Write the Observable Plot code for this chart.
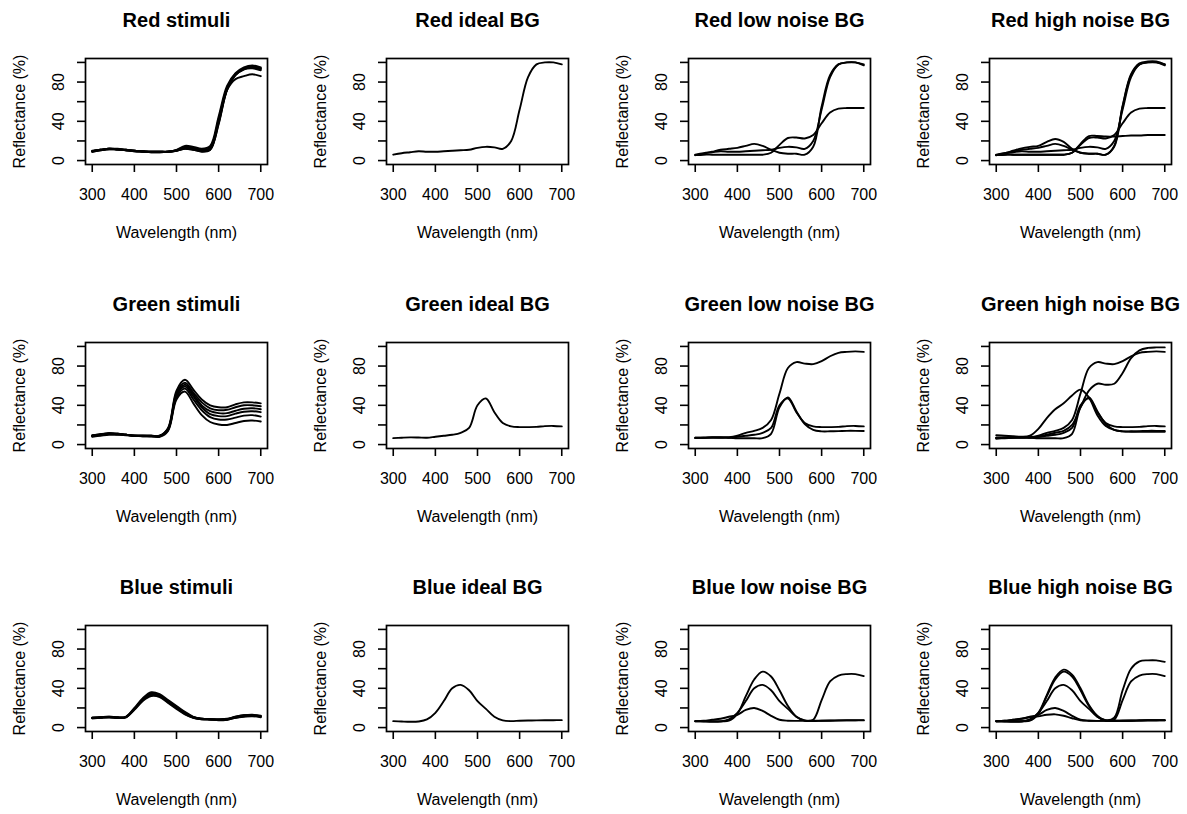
<!DOCTYPE html>
<html><head><meta charset="utf-8">
<script src="https://cdn.jsdelivr.net/npm/d3@7"></script>
<script src="https://cdn.jsdelivr.net/npm/@observablehq/plot@0.6"></script>
<style>
body{margin:0;background:#fff;}
#root{position:relative;width:1187px;height:814px;overflow:hidden;background:#fff;}
.cell{position:absolute;width:301px;height:283px;}
.cell svg{overflow:visible;max-width:none !important;}
</style></head><body><div id="root"></div>
<script>
// ---- data (reflectance %, sampled every 20 nm) ----
const wavelength = [300,320,340,360,380,400,420,440,460,480,500,520,540,560,580,600,620,640,660,680,700];

const redStim1 = [10,11,12,12,11,10,9.5,9,9,9,11,15,14,12,15,45,76,89,95,97,95];
const redStim2 = [9.5,11,12,11.5,11,10,9.5,9,9,9,10.5,14,13,11,13,42,74,88,94,96,94];
const redStim3 = [9,10.5,11.5,11.5,10.5,9.5,9,8.5,8.5,9,10,13,12,10,12,40,73,88,94,95,93];
const redStim4 = [9,10.5,11.5,11,10.5,9.5,9,8.5,8.5,9,10,12,11,9.5,11,38,72,87,93,94,92];
const redStim5 = [9.5,11,12,11.5,10.5,10,9,9,9,9,10,12,11,9,11,37,72,87,93,95,94];
const redStim6 = [9.5,11,12,11.5,11,10,9.5,9,9,9,10.5,13,12,10,13,40,72,83,86,88,86];
const redIdeal = [6,7.5,8.5,9.5,9,9,9.5,10,10.5,11,13,14,13.5,12,20,52,85,98,100,100,98];
const redNoiseA = [5.5,7,9,11,12,13,15,17,15,11,8,7,7,6,14,55,87,98,100,100,97];
const redNoiseB = [5.5,6,6,6,6,6,6,6,6,8,16,23,23.5,22.5,26,38,49,53,53.5,53.5,53.5];
const redNoiseC = [5.5,7.5,10,12.5,14,15,19,22,19,12,8,7,7,6,15,56,88,99,101,101,98];
const redNoiseD = [5.5,6,6,6,6,6,6,6,6,8,17,25,25,24.5,24.5,25,25.5,25.5,26,26,26];

const greenStim1 = [9,10,11,11,10,9,9,9,9,17,55,66,56,46,40,38,38,41,43,43,42];
const greenStim2 = [9,10.5,11.5,11,10,9,9,9,9,16,53,63,53,43,37,35,35.5,38,40,40,39];
const greenStim3 = [9.5,10.5,11.5,11,10,9,9,9,8.5,16,51,61,51,40,34,32,32,34.5,36.5,37,36];
const greenStim4 = [8.5,10,11,10.5,10,9,9,8.5,8.5,15,50,59,49,38,31,29,29,31.5,33.5,34,33];
const greenStim5 = [9,10,11,10.5,10,9,8.5,8.5,8.5,15,48,57,46,35,28,25.5,25.5,27.5,29.5,30,28.5];
const greenStim6 = [8,9,10,10,9.5,9,8.5,8.5,8,14,46,54,42,30,23,20.5,20,22,24,24.5,23.5];
const greenIdeal = [6.6,7,7.3,7.2,7,8,9,10,12,17,40,47,33,22,18.5,17.8,17.8,18,18.8,19,18.5];
const greenNoiseA = [7,7,7.5,7.5,7.5,9,12,14,17,25,52,78,84,82.5,82,85,90,93.5,94.5,95,94.5];
const greenNoiseB = [7,7,7,7,7,6.5,6.5,6.5,6.5,11,38,48,34,21,15,13.5,13.5,13.7,14,14,13.8];
const greenNoiseC = [9.5,9,8.5,8,9,16,27,36,42,50,56,48,30,19,15,13.5,13,13,13,13,13];
const greenNoiseD = [6,6.5,7,7.5,7.5,8,10,12,14,20,38,55,62,61,62,73,88,96,98.5,99,99];

const blueStim1 = [10,10.5,11,10.5,11,20,30,36,34,28,22,16,11,9,8.5,8.5,9,11,12.5,13,12];
const blueStim2 = [10,10.5,10.5,10,11,19,29,35,33,27,21,15,10.5,9,8.5,8,8.5,10.5,12,12.5,11.5];
const blueStim3 = [9.5,10,10.5,10,10.5,19,28,34,32,26,20,14,10,8.5,8.5,8,8,10,11.5,12,11];
const blueStim4 = [9.5,10,10.5,10,10.5,18,27,32,31,25,19,13.5,10,8.5,8,7.5,8,10,11,11.5,10.5];
const blueStim5 = [10,10.5,11,10.5,11,19,28,33,32,26,20,14.5,10.5,9,8.5,8,8.5,11,12.5,12.5,11.5];
const blueIdeal = [6.6,6.2,5.9,6.2,8.3,15,27,40,43.5,38,27,19,11,7.3,6.6,7,7.2,7.3,7.4,7.5,7.6];
const blueNoiseA = [6.5,6.5,6.5,6.5,7,14,32,49,57,52,38,22,11,7,8,28,47,53,54.5,54.5,52.5];
const blueNoiseB = [6.5,7,8,9,11,13,18,20,17,12,8,7,6.8,6.8,7,7,7,7.2,7.3,7.3,7.3];
const blueNoiseC = [6.5,6.5,6.5,6.5,7.5,15,33,51,59,54,40,23,12,7.5,10,38,60,67.5,68.5,68.5,67];
const blueNoiseD = [6.5,7,8,9,10.5,11.5,13,13.5,12,9.5,7.5,7,6.8,6.8,7,7,7,7.2,7.4,7.5,7.5];

const panelTitles = [
  "Red stimuli","Red ideal BG","Red low noise BG","Red high noise BG",
  "Green stimuli","Green ideal BG","Green low noise BG","Green high noise BG",
  "Blue stimuli","Blue ideal BG","Blue low noise BG","Blue high noise BG"
];
const panelSeries = [
  [redStim1,redStim2,redStim3,redStim4,redStim5,redStim6],
  [redIdeal],
  [redIdeal,redNoiseA,redNoiseB],
  [redIdeal,redNoiseA,redNoiseB,redNoiseC,redNoiseD],
  [greenStim1,greenStim2,greenStim3,greenStim4,greenStim5,greenStim6],
  [greenIdeal],
  [greenIdeal,greenNoiseA,greenNoiseB],
  [greenIdeal,greenNoiseA,greenNoiseB,greenNoiseC,greenNoiseD],
  [blueStim1,blueStim2,blueStim3,blueStim4,blueStim5],
  [blueIdeal],
  [blueIdeal,blueNoiseA,blueNoiseB],
  [blueIdeal,blueNoiseA,blueNoiseB,blueNoiseC,blueNoiseD]
];
const xTicks = [300,400,500,600,700];
const yTicks = [0,20,40,60,80,100];
const yTickLabels = [0,40,80];
const xLabel = "Wavelength (nm)";
const yLabel = "Reflectance (%)";

// ---- layout ----
const root = document.getElementById("root");
const W = 301, H = 283;
const font = "'Liberation Sans', Arial, Helvetica, sans-serif";

panelTitles.forEach((title, i) => {
  const col = i % 4, row = Math.floor(i / 4);
  const rows = panelSeries[i].flatMap((s, k) => wavelength.map((w, j) => ({w, r: s[j], k})));
  const chart = Plot.plot({
    width: W, height: H,
    marginLeft: 85, marginRight: 34, marginTop: 58, marginBottom: 119,
    style: {fontFamily: font, fontSize: "16px", background: "transparent", color: "#000", overflow: "visible", maxWidth: "none"},
    x: {domain: [284, 716], axis: null},
    y: {domain: [-4, 104], axis: null},
    marks: [
      Plot.line(rows, {x: "w", y: "r", z: "k", curve: "catmull-rom", stroke: "#000", strokeWidth: 1.9}),
      Plot.frame({stroke: "#000", strokeWidth: 1.7}),
      Plot.axisX(xTicks, {anchor: "bottom", tickSize: 8, tickPadding: 16, fontSize: 16, label: null, strokeWidth: 1.6}),
      Plot.axisY(yTicks, {anchor: "left", tickSize: 8, tickFormat: () => "", label: null, strokeWidth: 1.6}),
      Plot.text(yTickLabels, {y: d => d, text: d => String(d), frameAnchor: "left", dx: -27, rotate: -90, textAnchor: "middle", lineAnchor: "middle", fontSize: 16}),
      Plot.text([title], {text: d => d, frameAnchor: "top", dy: -38, textAnchor: "middle", lineAnchor: "middle", fontWeight: "bold", fontSize: 20}),
      Plot.text([xLabel], {text: d => d, frameAnchor: "bottom", dy: 68, textAnchor: "middle", lineAnchor: "middle", fontSize: 16}),
      Plot.text([yLabel], {text: d => d, frameAnchor: "left", dx: -66, rotate: -90, textAnchor: "middle", lineAnchor: "middle", fontSize: 16})
    ]
  });
  chart.style.maxWidth = "none";
  const cell = document.createElement("div");
  cell.className = "cell";
  cell.style.left = Math.round(col * 301.3) + "px";
  cell.style.top = Math.round(row * 283.5) + "px";
  cell.appendChild(chart);
  root.appendChild(cell);
});
</script>
</body></html>
